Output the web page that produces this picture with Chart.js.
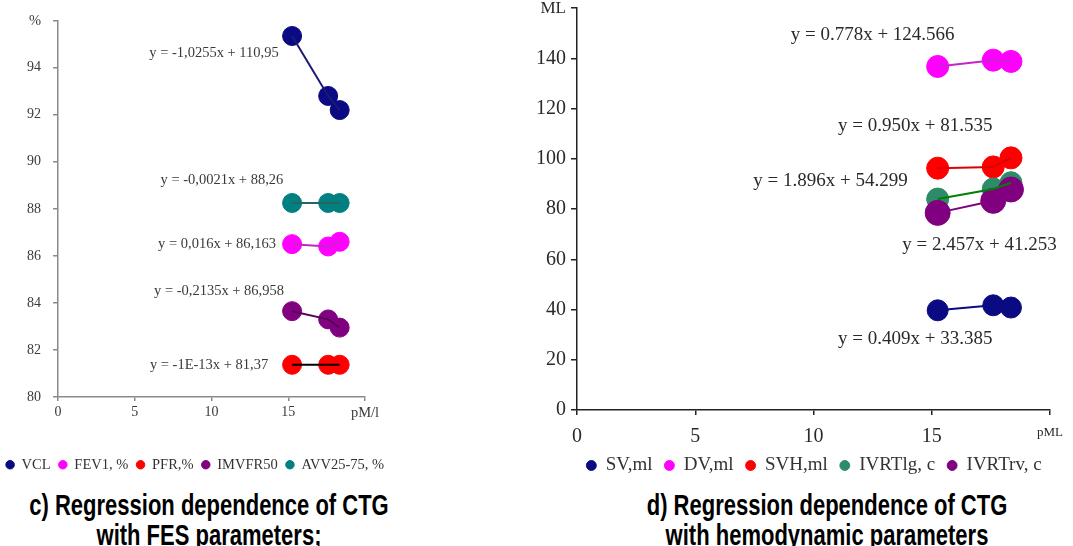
<!DOCTYPE html>
<html><head><meta charset="utf-8">
<script src="https://cdn.jsdelivr.net/npm/chart.js@4.4.1/dist/chart.umd.min.js"></script>
<style>
html,body{margin:0;padding:0;background:#fff;}
body{width:1073px;height:546px;overflow:hidden;position:relative;}
canvas{position:absolute;}
.cap{position:absolute;width:420px;text-align:center;font-family:'Liberation Sans',Arial,sans-serif;font-weight:bold;font-size:22px;line-height:23px;color:#000;transform:scaleY(1.3);transform-origin:50% 0;white-space:nowrap;}
</style></head>
<body>
<canvas id="fes" width="400" height="482" style="left:0;top:0"></canvas>
<canvas id="hem" width="583" height="492" style="left:490px;top:-7px"></canvas>
<div class="cap" style="left:-1px;top:490px">c) Regression dependence of CTG<br>with FES parameters;</div>
<div class="cap" style="left:617px;top:490px">d) Regression dependence of CTG<br>with hemodynamic parameters</div>
<script>
// ---------- data ----------
const ctg = [15.25, 17.6, 18.35];           // x values (pM/l)

// c) FES parameters
const fesNames = ['VCL', 'FEV1, %', 'PFR,%', 'IMVFR50', 'AVV25-75, %'];
const vcl      = [95.35, 92.8, 92.2];
const fev1     = [86.5, 86.4, 86.6];
const pfr      = [81.37, 81.37, 81.37];
const imvfr50  = [83.65, 83.3, 82.95];
const avv      = [88.25, 88.25, 88.25];
const fesEquations = ['y = -1,0255x + 110,95', 'y = -0,0021x + 88,26', 'y = 0,016x + 86,163', 'y = -0,2135x + 86,958', 'y = -1E-13x + 81,37'];
const fesXTicks = [0, 5, 10, 15, 'pM/l'];
const fesYTicks = [80, 82, 84, 86, 88, 90, 92, 94, '%'];

// d) hemodynamic parameters
const hemNames = ['SV,ml', 'DV,ml', 'SVH,ml', 'IVRTlg, c', 'IVRTrv, c'];
const sv      = [39.7, 41.7, 40.8];
const dv      = [136.8, 139.3, 138.8];
const svh     = [96.3, 96.8, 100.4];
const ivrtlg  = [84.0, 88.0, 90.5];
const ivrtrv  = [78.5, 83.3, 87.8];
const hemEquations = ['y = 0.778x + 124.566', 'y = 0.950x + 81.535', 'y = 1.896x + 54.299', 'y = 2.457x + 41.253', 'y = 0.409x + 33.385'];
const hemXTicks = [0, 5, 10, 15, 'pML'];
const hemYTicks = [0, 20, 40, 60, 80, 100, 120, 140, 'ML'];

// ---------- styles / placement (not data) ----------
const fesStyle = [
  {color:'#0a0a82', line:'#1a1a78', r:9.5},
  {color:'#ff00ff', line:'#c028c0', r:9.5},
  {color:'#ff0000', line:'#000000', r:9.5},
  {color:'#800080', line:'#5c005c', r:9.5},
  {color:'#008080', line:'#2a6262', r:9.5}
];
const fesEqPos = [[10.16, 94.63], [10.68, 89.23], [10.36, 86.49], [10.49, 84.51], [9.84, 81.35]];

const hemStyle = [
  {color:'#0a0a82', line:'#0a0a82', r:10.5},
  {color:'#ff00ff', line:'#cc22cc', r:11},
  {color:'#ff0000', line:'#e00000', r:11},
  {color:'#2e8b6a', line:'#008000', r:11},
  {color:'#800080', line:'#800080', r:12.5}
];
const hemEqPos = [[12.5, 149.5], [14.3, 113.0], [10.72, 91.2], [17.02, 65.5], [14.3, 28.2]];

// ---------- helpers ----------
function buildDatasets(names, seriesValues, styles) {
  const pts = v => ctg.map((c, k) => ({x: c, y: v[k]}));
  const markers = names.map((n, i) => ({
    label: n, data: pts(seriesValues[i]),
    backgroundColor: styles[i].color, borderColor: styles[i].color,
    pointRadius: styles[i].r, pointHoverRadius: styles[i].r, pointBorderWidth: 1,
    showLine: false, order: 20 - i
  }));
  const lines = names.map((n, i) => ({
    label: n, isTrend: true, data: pts(seriesValues[i]),
    borderColor: styles[i].line, backgroundColor: styles[i].line, borderWidth: 2,
    pointRadius: 0, pointHoverRadius: 0, showLine: true, order: 0
  }));
  return markers.concat(lines);
}
function eqPlugin(texts, pos, font, color) {
  return {
    id: 'eq',
    afterDatasetsDraw(chart) {
      const {ctx, scales: {x, y}} = chart;
      ctx.save();
      ctx.font = font; ctx.fillStyle = color;
      ctx.textAlign = 'center'; ctx.textBaseline = 'middle';
      texts.forEach((t, i) => ctx.fillText(t, x.getPixelForValue(pos[i][0]), y.getPixelForValue(pos[i][1])));
      ctx.restore();
    }
  };
}
function legendShift(dx) {
  return {
    id: 'legendShift',
    afterLayout(chart) {
      const l = chart.legend;
      if (l) { l.left += dx; l.right += dx; }
    }
  };
}
function axis(opts) {
  return {
    type: 'linear', min: opts.min, max: opts.max,
    ticks: {
      stepSize: opts.step, autoSkip: false, maxRotation: 0, color: opts.tickColor, padding: opts.padding,
      callback: v => opts.labels[Math.round((v - opts.min) / opts.step)],
      font: c => ({family: "'Liberation Serif', 'Times New Roman', serif",
                   size: (c.tick && c.tick.value === opts.max) ? opts.endSize : opts.size})
    },
    grid: {display: true, drawOnChartArea: false, drawTicks: true, tickLength: opts.tickLength, color: opts.lineColor, lineWidth: 1.5},
    border: {display: true, color: opts.lineColor, width: 1.5},
    afterFit: opts.fit
  };
}
function spacer(width) {
  return {
    type: 'linear', position: 'right', display: true,
    ticks: {display: false}, grid: {display: false, drawTicks: false}, border: {display: false},
    afterFit: s => { s.width = width; }
  };
}
function legendOpts(size, boxH, pad) {
  return {
    position: 'bottom',
    labels: {
      usePointStyle: true, boxHeight: boxH, pointStyleWidth: boxH * Math.SQRT2, padding: pad, color: '#333',
      font: {family: "'Liberation Serif', 'Times New Roman', serif", size: size},
      filter: (item, data) => !data.datasets[item.datasetIndex].isTrend,
      sort: (a, b) => a.datasetIndex - b.datasetIndex
    }
  };
}

// ---------- chart c ----------
new Chart(document.getElementById('fes'), {
  type: 'scatter',
  data: {datasets: buildDatasets(fesNames, [vcl, fev1, pfr, imvfr50, avv], fesStyle)},
  options: {
    responsive: false, animation: false, devicePixelRatio: 1,
    layout: {padding: {left: 0, right: 0, top: 17.5, bottom: 0}},
    plugins: {legend: legendOpts(14.5, 6, 8), tooltip: {enabled: false}},
    scales: {
      x: axis({min: 0, max: 20, step: 5, labels: fesXTicks, size: 14, endSize: 14.5, padding: 3, tickLength: 4,
               tickColor: '#3a3a3a', lineColor: '#8a8a8a', fit: s => { s.height = 52.5; }}),
      y: axis({min: 80, max: 96, step: 2, labels: fesYTicks, size: 14, endSize: 14.5, padding: 12, tickLength: 5,
               tickColor: '#3a3a3a', lineColor: '#8a8a8a', fit: s => { s.width = 58; }}),
      yRight: spacer(35)
    }
  },
  plugins: [eqPlugin(fesEquations, fesEqPos, "14.5px 'Liberation Serif', serif", '#3a3a3a'), legendShift(-5)]
});

// ---------- chart d ----------
new Chart(document.getElementById('hem'), {
  type: 'scatter',
  data: {datasets: buildDatasets(hemNames, [sv, dv, svh, ivrtlg, ivrtrv], hemStyle)},
  options: {
    responsive: false, animation: false, devicePixelRatio: 1,
    layout: {padding: {left: 45, right: 0, top: 0, bottom: 0}},
    plugins: {legend: legendOpts(19, 7, 12), tooltip: {enabled: false}},
    scales: {
      x: axis({min: 0, max: 20, step: 5, labels: hemXTicks, size: 20, endSize: 13, padding: 10, tickLength: 5,
               tickColor: '#2a2a2a', lineColor: '#222', fit: s => { s.height = 34; }}),
      y: axis({min: 0, max: 160, step: 20, labels: hemYTicks, size: 20, endSize: 17, padding: 5, tickLength: 6,
               tickColor: '#2a2a2a', lineColor: '#222', fit: s => { s.width = 42; }})
    }
  },
  plugins: [eqPlugin(hemEquations, hemEqPos, "19px 'Liberation Serif', serif", '#2a2a2a'), legendShift(10)]
});
</script>
</body></html>
